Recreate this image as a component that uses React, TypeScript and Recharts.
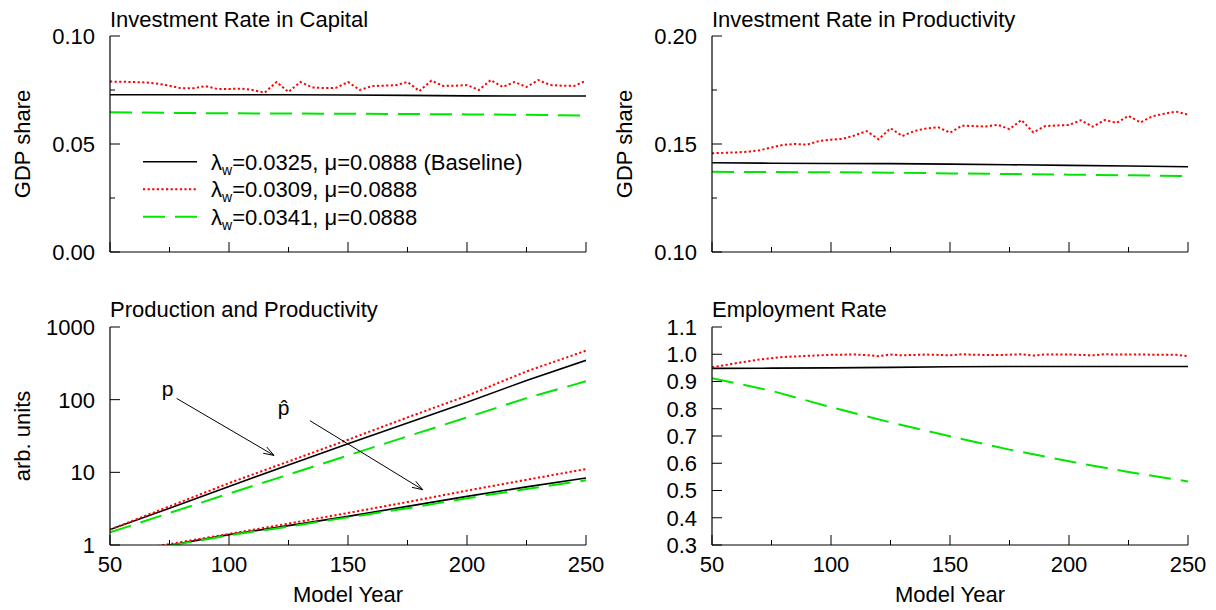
import React from 'react';
import { LineChart, Line, XAxis, YAxis, ReferenceLine, ReferenceDot, Legend } from 'recharts';

const FONT = "'Liberation Sans', Arial, Helvetica, sans-serif";

// ---------- data ----------
const years5 = [50, 55, 60, 65, 70, 75, 80, 85, 90, 95, 100, 105, 110, 115, 120, 125, 130, 135, 140, 145, 150,
  155, 160, 165, 170, 175, 180, 185, 190, 195, 200, 205, 210, 215, 220, 225, 230, 235, 240, 245, 250];
const yearsQ = [50, 75, 100, 125, 150, 175, 200, 225, 250];

// Investment rate in capital
const capBaseline = [0.0728, 0.0728, 0.0728, 0.0728, 0.0727, 0.0725, 0.0723, 0.0722, 0.0722];
const capLow = [0.0789, 0.0788, 0.0787, 0.0785, 0.0779, 0.0770, 0.0758, 0.0758, 0.0768, 0.0755, 0.0755,
  0.0756, 0.0750, 0.0738, 0.0787, 0.0741, 0.0787, 0.0762, 0.0759, 0.0760, 0.0787,
  0.0750, 0.0768, 0.0770, 0.0772, 0.0787, 0.0745, 0.0793, 0.0769, 0.0770, 0.0773,
  0.0750, 0.0796, 0.0764, 0.0787, 0.0764, 0.0796, 0.0773, 0.0770, 0.0769, 0.0793];
const capHigh = [0.0647, 0.0644, 0.0642, 0.0641, 0.0640, 0.0639, 0.0637, 0.0635, 0.0632];

// Investment rate in productivity
const prodBaseline = [0.1413, 0.1411, 0.1410, 0.1409, 0.1407, 0.1404, 0.1401, 0.1398, 0.1395];
const prodLow = [0.1457, 0.1459, 0.1461, 0.1464, 0.1471, 0.1484, 0.1496, 0.1500, 0.1497, 0.1514, 0.1520,
  0.1524, 0.1540, 0.1560, 0.1522, 0.1573, 0.1537, 0.1560, 0.1572, 0.1578, 0.1552,
  0.1585, 0.1583, 0.1581, 0.1589, 0.1569, 0.1611, 0.1554, 0.1583, 0.1586, 0.1588,
  0.1610, 0.1580, 0.1611, 0.1598, 0.1630, 0.1600, 0.1628, 0.1640, 0.1650, 0.1636];
const prodHigh = [0.1371, 0.1370, 0.1369, 0.1367, 0.1364, 0.1361, 0.1358, 0.1355, 0.1352];

// Production (p) and productivity (p-hat), log scale
const pBaseline = [1.63, 3.2, 6.4, 12.6, 24.8, 47.7, 91.8, 184, 348];
const pLow = [1.63, 3.4, 7.1, 14.1, 28.1, 57, 113, 245, 472];
const pHigh = [1.49, 2.76, 5.1, 9.3, 17.1, 31.3, 57, 105, 179];
const phatYearsBaseline = [75, 100, 125, 150, 175, 200, 225, 250];
const phatBaseline = [0.99, 1.39, 1.85, 2.48, 3.4, 4.67, 6.3, 8.36];
const phatYearsLow = [70, 75, 100, 125, 150, 175, 200, 225, 250];
const phatLow = [0.97, 1.03, 1.42, 1.97, 2.76, 3.9, 5.6, 7.9, 11.1];
const phatYearsHigh = [75, 100, 125, 150, 175, 200, 225, 250];
const phatHigh = [0.98, 1.36, 1.79, 2.4, 3.2, 4.4, 5.9, 7.76];

// Employment rate
const empBaseline = [0.948, 0.949, 0.950, 0.952, 0.954, 0.955, 0.955, 0.955, 0.955];
const empYearsLow = [50, 60, 70, 80, 90, 100, 110, 115, 120, 125, 130, 140, 150, 155, 160, 170, 180, 185, 190,
  200, 210, 215, 220, 230, 240, 245, 250];
const empLow = [0.952, 0.967, 0.981, 0.990, 0.994, 0.998, 0.999, 0.997, 0.993, 0.999, 0.996, 0.999, 0.996,
  1.0, 0.998, 0.997, 1.0, 0.995, 0.999, 0.999, 0.996, 1.0, 0.999, 0.999, 0.998, 0.998, 0.993];
const empHigh = [0.912, 0.866, 0.806, 0.750, 0.699, 0.650, 0.607, 0.568, 0.533];

// legend / axes text
const lambdaValues = ['0.0325', '0.0309', '0.0341'];
const muValue = '0.0888';
const legendSuffix = [' (Baseline)', '', ''];
const xTicks = [50, 75, 100, 125, 150, 175, 200, 225, 250];
const xMajors = [50, 100, 150, 200, 250];
const capTicks = [0, 0.025, 0.05, 0.075, 0.1];
const capMajors = [0, 0.05, 0.1];
const prodTicks = [0.1, 0.125, 0.15, 0.175, 0.2];
const prodMajors = [0.1, 0.15, 0.2];
const logTicks = [1, 10, 100, 1000];
const empTicks = [0.3, 0.4, 0.5, 0.6, 0.7, 0.8, 0.9, 1.0, 1.1];

const STYLES = [
  { stroke: '#000000', dash: undefined as string | undefined, w: 1.6 },
  { stroke: '#ff0000', dash: '2.2 2.4', w: 2 },
  { stroke: '#00e600', dash: '22 10', w: 2 },
];

const pts = (xs: number[], vs: number[]) => xs.map((x, i) => ({ x, v: vs[i] }));
const isIn = (arr: number[], v: number) => arr.some((a) => Math.abs(a - v) < 1e-9);

// ---------- ticks (inward, gnuplot style) ----------
const MAJ = 10;
const MIN = 5;
const FS = 22;

const bottomTick = (majors: number[], showLabel: boolean) => (p: any) => {
  const { x, y, payload } = p;
  const major = isIn(majors, payload.value);
  return (
    <g>
      <line x1={x} y1={y} x2={x} y2={y - (major ? MAJ : MIN)} stroke="#000" strokeWidth={1} />
      {showLabel && major ? (
        <text x={x} y={y + 27} textAnchor="middle" fontSize={FS} fontFamily={FONT} fill="#000">
          {payload.value}
        </text>
      ) : null}
    </g>
  );
};
const topTick = (majors: number[]) => (p: any) => {
  const { x, y, payload } = p;
  const major = isIn(majors, payload.value);
  return <line x1={x} y1={y} x2={x} y2={y + (major ? MAJ : MIN)} stroke="#000" strokeWidth={1} />;
};
const leftTick = (majors: number[], fmt: (v: number) => string) => (p: any) => {
  const { x, y, payload } = p;
  const major = isIn(majors, payload.value);
  return (
    <g>
      <line x1={x} y1={y} x2={x + (major ? MAJ : MIN)} y2={y} stroke="#000" strokeWidth={1} />
      {major ? (
        <text x={x - 15} y={y} dy="0.36em" textAnchor="end" fontSize={FS} fontFamily={FONT} fill="#000">
          {fmt(payload.value)}
        </text>
      ) : null}
    </g>
  );
};
const rightTick = (majors: number[]) => (p: any) => {
  const { x, y, payload } = p;
  const major = isIn(majors, payload.value);
  return <line x1={x} y1={y} x2={x - (major ? MAJ : MIN)} y2={y} stroke="#000" strokeWidth={1} />;
};

const Arrow = (props: any) => {
  const { x1, y1, x2, y2 } = props;
  const ang = Math.atan2(y2 - y1, x2 - x1);
  const L = 11;
  const a = 0.33;
  const ax = x2 - L * Math.cos(ang - a);
  const ay = y2 - L * Math.sin(ang - a);
  const bx = x2 - L * Math.cos(ang + a);
  const by = y2 - L * Math.sin(ang + a);
  return (
    <g>
      <line x1={x1} y1={y1} x2={x2} y2={y2} stroke="#000" strokeWidth={1} />
      <polyline points={`${ax},${ay} ${x2},${y2} ${bx},${by}`} fill="none" stroke="#000" strokeWidth={1} />
    </g>
  );
};

const LegendBox = () => (
  <svg width={330} height={90} style={{ display: 'block', overflow: 'visible' }}>
    {lambdaValues.map((lv, i) => {
      const yl = 13.7 + i * 27.5;
      const s = STYLES[i];
      return (
        <g key={i}>
          <line x1={0} y1={yl} x2={54} y2={yl} stroke={s.stroke} strokeWidth={s.w} strokeDasharray={s.dash} />
          <text x={68} y={yl + 8} fontSize={FS} fontFamily={FONT} fill="#000">
            λ<tspan fontSize={14} dy={5}>w</tspan>
            <tspan fontSize={FS} dy={-5}>={lv}, μ={muValue}{legendSuffix[i]}</tspan>
          </text>
        </g>
      );
    })}
  </svg>
);

type SeriesDef = { data: { x: number; v: number }[] };

function lines(series: SeriesDef[]) {
  return series.map((s, i) => (
    <Line
      key={i}
      xAxisId="b"
      yAxisId="l"
      data={s.data}
      dataKey="v"
      type="linear"
      dot={false}
      activeDot={false}
      stroke={STYLES[i].stroke}
      strokeWidth={STYLES[i].w}
      strokeDasharray={STYLES[i].dash}
      isAnimationActive={false}
    />
  ));
}

function axes(opts: {
  showX: boolean;
  yTicks: number[];
  yMajors: number[];
  yDomain: [number, number];
  fmt: (v: number) => string;
  log?: boolean;
}) {
  const { showX, yTicks, yMajors, yDomain, fmt, log } = opts;
  return [
    <XAxis key="xb" xAxisId="b" type="number" dataKey="x" domain={[50, 250]} ticks={xTicks} interval={0}
      allowDataOverflow orientation="bottom" height={30} tickSize={0} tickMargin={0} tickLine={false}
      axisLine={{ stroke: '#000', strokeWidth: 1.2 }} tick={bottomTick(xMajors, showX)} />,
    <XAxis key="xt" xAxisId="t" type="number" dataKey="x" domain={[50, 250]} ticks={xTicks} interval={0}
      allowDataOverflow orientation="top" height={0} tickSize={0} tickMargin={0} tickLine={false}
      axisLine={{ stroke: '#000', strokeWidth: 1.2 }} tick={topTick(xMajors)} />,
    <YAxis key="yl" yAxisId="l" type="number" scale={log ? 'log' : 'linear'} domain={yDomain} ticks={yTicks}
      interval={0} allowDataOverflow orientation="left" width={80} tickSize={0} tickMargin={0} tickLine={false}
      axisLine={{ stroke: '#000', strokeWidth: 1.2 }} tick={leftTick(yMajors, fmt)} />,
    <YAxis key="yr" yAxisId="r" type="number" scale={log ? 'log' : 'linear'} domain={yDomain} ticks={yTicks}
      interval={0} allowDataOverflow orientation="right" width={0} tickSize={0} tickMargin={0} tickLine={false}
      axisLine={{ stroke: '#000', strokeWidth: 1.2 }} tick={rightTick(yMajors)} />,
  ];
}

const txt = { fontFamily: FONT, fill: '#000' } as const;

export default function App() {
  return (
    <div style={{ position: 'absolute', left: 0, top: 0, width: 1216, height: 610, background: '#fff', overflow: 'hidden' }}>
      {/* Top-left: Investment Rate in Capital */}
      <div style={{ position: 'absolute', left: 0, top: 0 }}>
        <LineChart width={608} height={300} margin={{ top: 36, right: 22, bottom: 18, left: 30 }}>
          {axes({ showX: false, yTicks: capTicks, yMajors: capMajors, yDomain: [0, 0.1], fmt: (v) => v.toFixed(2) })}
          {lines([
            { data: pts(yearsQ, capBaseline) },
            { data: pts(years5, capLow) },
            { data: pts(yearsQ, capHigh) },
          ])}
          <Legend layout="horizontal" verticalAlign="middle" align="center" content={() => <LegendBox />}
            wrapperStyle={{ position: 'absolute', left: 143, top: 148, width: 330, height: 90 }} />
        </LineChart>
      </div>

      {/* Top-right: Investment Rate in Productivity */}
      <div style={{ position: 'absolute', left: 608, top: 0 }}>
        <LineChart width={608} height={300} margin={{ top: 36, right: 28, bottom: 18, left: 24 }}>
          {axes({ showX: false, yTicks: prodTicks, yMajors: prodMajors, yDomain: [0.1, 0.2], fmt: (v) => v.toFixed(2) })}
          {lines([
            { data: pts(yearsQ, prodBaseline) },
            { data: pts(years5, prodLow) },
            { data: pts(yearsQ, prodHigh) },
          ])}
        </LineChart>
      </div>

      {/* Bottom-left: Production and Productivity */}
      <div style={{ position: 'absolute', left: 0, top: 290 }}>
        <LineChart width={608} height={320} margin={{ top: 37, right: 22, bottom: 35, left: 30 }}>
          {axes({ showX: true, yTicks: logTicks, yMajors: logTicks, yDomain: [1, 1000], fmt: (v) => String(v), log: true })}
          {lines([
            { data: pts(yearsQ, pBaseline) },
            { data: pts(yearsQ, pLow) },
            { data: pts(yearsQ, pHigh) },
          ])}
          {lines([
            { data: pts(phatYearsBaseline, phatBaseline) },
            { data: pts(phatYearsLow, phatLow) },
            { data: pts(phatYearsHigh, phatHigh) },
          ])}
          <ReferenceLine xAxisId="b" yAxisId="l" segment={[{ x: 78.0, y: 104 }, { x: 118.9, y: 17.1 }]}
            ifOverflow="visible" shape={(p: any) => <Arrow {...p} />} />
          <ReferenceLine xAxisId="b" yAxisId="l" segment={[{ x: 134, y: 51.4 }, { x: 181.4, y: 5.77 }]}
            ifOverflow="visible" shape={(p: any) => <Arrow {...p} />} />
          <ReferenceDot xAxisId="b" yAxisId="l" x={71.7} y={112} r={0} ifOverflow="visible"
            shape={(p: any) => (
              <text x={p.cx} y={p.cy} fontSize={21} {...txt}>p</text>
            )} />
          <ReferenceDot xAxisId="b" yAxisId="l" x={120.5} y={62.2} r={0} ifOverflow="visible"
            shape={(p: any) => (
              <text x={p.cx} y={p.cy} fontSize={21} {...txt}>{'p\u0302'}</text>
            )} />
        </LineChart>
      </div>

      {/* Bottom-right: Employment Rate */}
      <div style={{ position: 'absolute', left: 608, top: 290 }}>
        <LineChart width={608} height={320} margin={{ top: 37, right: 28, bottom: 35, left: 24 }}>
          {axes({ showX: true, yTicks: empTicks, yMajors: empTicks, yDomain: [0.3, 1.1], fmt: (v) => v.toFixed(1) })}
          {lines([
            { data: pts(yearsQ, empBaseline) },
            { data: pts(empYearsLow, empLow) },
            { data: pts(yearsQ, empHigh) },
          ])}
        </LineChart>
      </div>

      {/* titles and axis labels */}
      <svg width={1216} height={610} style={{ position: 'absolute', left: 0, top: 0, pointerEvents: 'none' }}>
        <text x={110} y={26.5} fontSize={FS} {...txt}>Investment Rate in Capital</text>
        <text x={712} y={26.5} fontSize={FS} {...txt}>Investment Rate in Productivity</text>
        <text x={110} y={317} fontSize={FS} {...txt}>Production and Productivity</text>
        <text x={712} y={317} fontSize={FS} {...txt}>Employment Rate</text>
        <text x={30} y={144} fontSize={FS} textAnchor="middle" transform="rotate(-90 30 144)" {...txt}>GDP share</text>
        <text x={632} y={144} fontSize={FS} textAnchor="middle" transform="rotate(-90 632 144)" {...txt}>GDP share</text>
        <text x={30} y={436} fontSize={FS} textAnchor="middle" transform="rotate(-90 30 436)" {...txt}>arb. units</text>
        <text x={348} y={602} fontSize={FS} textAnchor="middle" {...txt}>Model Year</text>
        <text x={950} y={602} fontSize={FS} textAnchor="middle" {...txt}>Model Year</text>
      </svg>
    </div>
  );
}
